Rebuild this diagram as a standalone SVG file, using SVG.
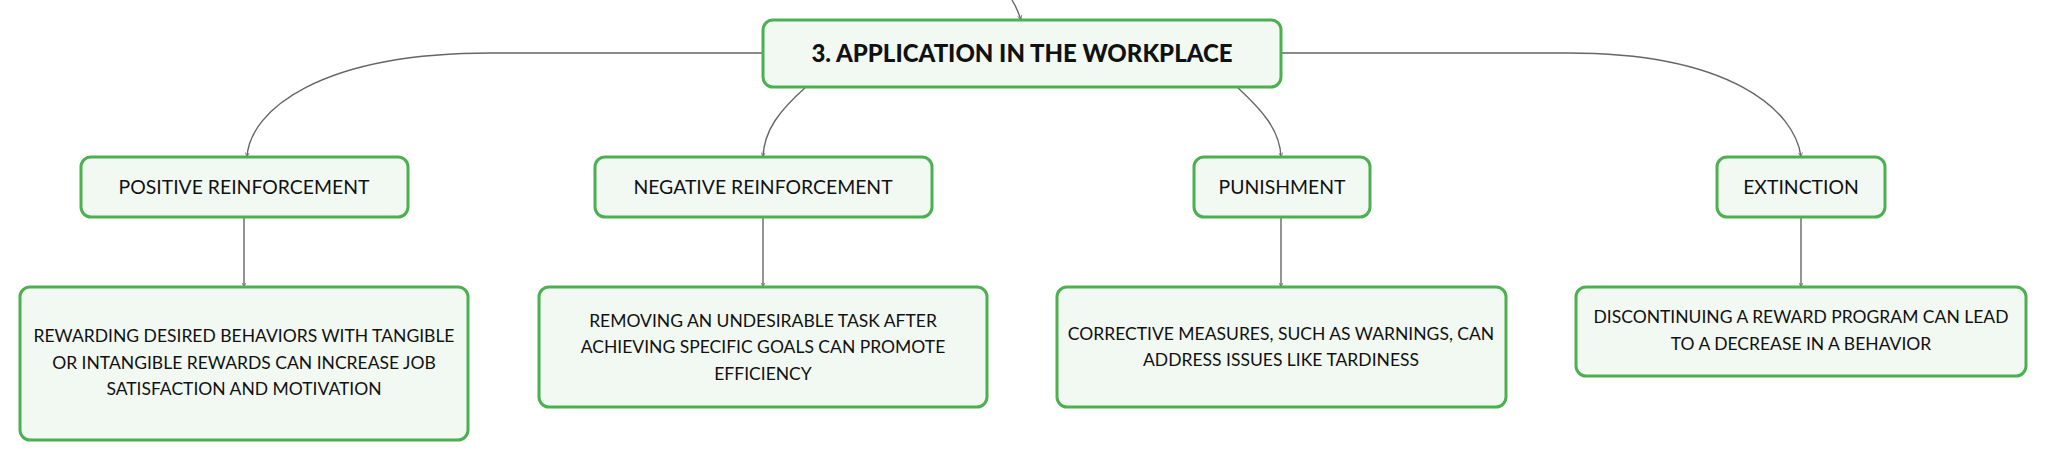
<svg xmlns="http://www.w3.org/2000/svg" width="2046" height="461" viewBox="0 0 2046 461">
<defs>
<marker id="arr" viewBox="0 0 10 10" refX="9" refY="5" markerWidth="5" markerHeight="5" orient="auto" markerUnits="userSpaceOnUse">
<path d="M0,1 L9,5 L0,9" fill="none" stroke="#666" stroke-width="1.5"/>
</marker>
<style>
.box{fill:#f2f9f3;stroke:#4caf50;stroke-width:3}
.conn{fill:none;stroke:#666;stroke-width:1.4;marker-end:url(#arr)}
.t{font-family:Lato,"Noto Sans","Liberation Sans",sans-serif;fill:#111;text-anchor:middle}
.title{font-size:24px;font-weight:900}
.mid{font-size:19.4px}
.desc{font-size:17.5px}
</style>
</defs>
<rect width="2046" height="461" fill="#ffffff"/>
<g id="connectors">
<path class="conn" d="M1012,0 Q1017,8 1021,20"/>
<path class="conn" d="M763,53 L491,53 C320,53 250,110 247,157"/>
<path class="conn" d="M806,87 C780,110 764,130 763,157"/>
<path class="conn" d="M1237,87 C1262,110 1280,130 1281,157"/>
<path class="conn" d="M1281,53 L1568,53 C1730,53 1795,110 1801,157"/>
<path class="conn" d="M244,217 L244,287"/>
<path class="conn" d="M763,217 L763,287"/>
<path class="conn" d="M1281,217 L1281,287"/>
<path class="conn" d="M1801,217 L1801,287"/>
</g>
<g id="root">
<rect class="box" x="763" y="20" width="518" height="67" rx="10"/>
<text class="t title" x="1022" y="62">3. APPLICATION IN THE WORKPLACE</text>
</g>
<g id="positive">
<rect class="box" x="81" y="157" width="327" height="60" rx="10"/>
<text class="t mid" x="244" y="194">POSITIVE REINFORCEMENT</text>
</g>
<g id="negative">
<rect class="box" x="595" y="157" width="337" height="60" rx="10"/>
<text class="t mid" x="763" y="194">NEGATIVE REINFORCEMENT</text>
</g>
<g id="punishment">
<rect class="box" x="1194" y="157" width="176" height="60" rx="10"/>
<text class="t mid" x="1282" y="194">PUNISHMENT</text>
</g>
<g id="extinction">
<rect class="box" x="1717" y="157" width="168" height="60" rx="10"/>
<text class="t mid" x="1801" y="194">EXTINCTION</text>
</g>
<g id="positive-desc">
<rect class="box" x="20" y="287" width="448" height="153" rx="10"/>
<text class="t desc" x="244" y="342">REWARDING DESIRED BEHAVIORS WITH TANGIBLE</text>
<text class="t desc" x="244" y="368.5">OR INTANGIBLE REWARDS CAN INCREASE JOB</text>
<text class="t desc" x="244" y="395">SATISFACTION AND MOTIVATION</text>
</g>
<g id="negative-desc">
<rect class="box" x="539" y="287" width="448" height="120" rx="10"/>
<text class="t desc" x="763" y="326.5">REMOVING AN UNDESIRABLE TASK AFTER</text>
<text class="t desc" x="763" y="353">ACHIEVING SPECIFIC GOALS CAN PROMOTE</text>
<text class="t desc" x="763" y="379.5">EFFICIENCY</text>
</g>
<g id="punishment-desc">
<rect class="box" x="1057" y="287" width="449" height="120" rx="10"/>
<text class="t desc" x="1281" y="339.5">CORRECTIVE MEASURES, SUCH AS WARNINGS, CAN</text>
<text class="t desc" x="1281" y="366">ADDRESS ISSUES LIKE TARDINESS</text>
</g>
<g id="extinction-desc">
<rect class="box" x="1576" y="287" width="450" height="89" rx="10"/>
<text class="t desc" x="1801" y="323">DISCONTINUING A REWARD PROGRAM CAN LEAD</text>
<text class="t desc" x="1801" y="349.5">TO A DECREASE IN A BEHAVIOR</text>
</g>
</svg>
